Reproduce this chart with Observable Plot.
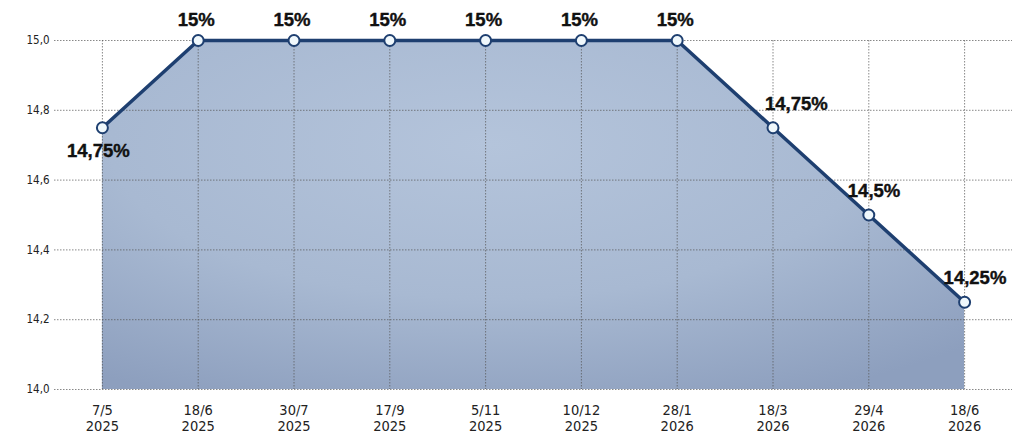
<!DOCTYPE html>
<html><head><meta charset="utf-8">
<script src="https://cdn.jsdelivr.net/npm/d3@7"></script>
<script src="https://cdn.jsdelivr.net/npm/@observablehq/plot@0.6"></script>
<style>body{margin:0;background:#fff}</style>
</head><body><div id="chart"></div>
<script>
const dates = ["7/5\n2025", "18/6\n2025", "30/7\n2025", "17/9\n2025", "5/11\n2025", "10/12\n2025", "28/1\n2026", "18/3\n2026", "29/4\n2026", "18/6\n2026"];
const rates = [14.75, 15, 15, 15, 15, 15, 15, 14.75, 14.5, 14.25];
const rateLabels = ["14,75%", "15%", "15%", "15%", "15%", "15%", "15%", "14,75%", "14,5%", "14,25%"];
const yTicks = [14, 14.2, 14.4, 14.6, 14.8, 15];
const yBase = 14;

const data = dates.map((d, i) => ({date: d, rate: rates[i], label: rateLabels[i], i}));
const navy = "#1e3f70";
const labelFont = {fontSize: 18.5, fontWeight: "bold", fill: "#111", fontFamily: "Liberation Sans, Arial, sans-serif", stroke: "#111", strokeWidth: 0.4};

const chart = Plot.plot({
  width: 1016,
  height: 435,
  marginTop: 40,
  marginBottom: 46,
  marginLeft: 54,
  marginRight: 4,
  style: {fontFamily: "'DejaVu Sans Condensed', 'Liberation Sans Narrow', sans-serif", background: "#fff", overflow: "visible"},
  x: {type: "point", domain: dates, padding: 0.5, round: false, label: null},
  y: {domain: [14, 15], label: null},
  marks: [
    Plot.areaY(data, {x: "date", y1: yBase, y2: "rate", fill: "url(#areaGrad)"}),
    Plot.gridY(yTicks, {stroke: "#555", strokeOpacity: 0.7, strokeDasharray: "1.5,1.5"}),
    Plot.gridX({stroke: "#555", strokeOpacity: 0.7, strokeDasharray: "1.5,1.5"}),
    Plot.axisY({ticks: yTicks, tickFormat: d => d.toFixed(1).replace(".", ","), tickSize: 0, tickPadding: 5, fontSize: 11.5, fill: "#222"}),
    Plot.axisX({tickSize: 0, tickPadding: 14, fontSize: 14.5, lineHeight: 1.12, fill: "#222"}),
    Plot.line(data, {x: "date", y: "rate", stroke: navy, strokeWidth: 3.5}),
    Plot.dot(data, {x: "date", y: "rate", r: 5.5, fill: "#f0f8fc", stroke: navy, strokeWidth: 2}),
    Plot.text(data, {filter: d => d.i === 0, x: "date", y: "rate", text: "label", dx: -4, dy: 23, ...labelFont}),
    Plot.text(data, {filter: d => d.i >= 1 && d.i <= 6, x: "date", y: "rate", text: "label", dx: -2, dy: -20, ...labelFont}),
    Plot.text(data, {filter: d => d.i === 7, x: "date", y: "rate", text: "label", textAnchor: "start", dx: -8, dy: -24, ...labelFont}),
    Plot.text(data, {filter: d => d.i >= 8, x: "date", y: "rate", text: "label", textAnchor: "start", dx: -21, dy: -24, ...labelFont})
  ]
});

const svg = d3.select(chart);
const defs = svg.insert("defs", ":first-child");
const g = defs.append("radialGradient").attr("id", "areaGrad").attr("cx", "45%").attr("cy", "30%").attr("r", "80%");
g.append("stop").attr("offset", "0%").attr("stop-color", "#b4c4db");
g.append("stop").attr("offset", "55%").attr("stop-color", "#a8b9d2");
g.append("stop").attr("offset", "100%").attr("stop-color", "#8d9fbe");

document.getElementById("chart").append(chart);
</script>
</body></html>
